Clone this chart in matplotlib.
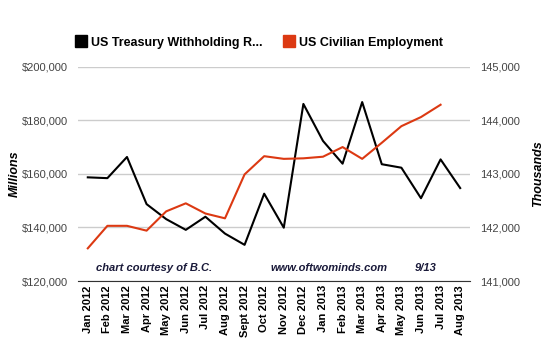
import matplotlib
matplotlib.use("Agg")
import matplotlib.pyplot as plt
from matplotlib.lines import Line2D
from matplotlib.ticker import FuncFormatter

plt.rcParams['font.family'] = ['Liberation Sans', 'DejaVu Sans']

months = ["Jan 2012", "Feb 2012", "Mar 2012", "Apr 2012", "May 2012", "Jun 2012",
          "Jul 2012", "Aug 2012", "Sept 2012", "Oct 2012", "Nov 2012", "Dec 2012",
          "Jan 2013", "Feb 2013", "Mar 2013", "Apr 2013", "May 2013", "Jun 2013",
          "Jul 2013", "Aug 2013"]
# withholding receipts, millions of $
withholding = [158700, 158400, 166300, 148700, 143100, 139100, 144000, 137700,
               133500, 152600, 139900, 186100, 172300, 163800, 186800, 163600,
               162300, 150900, 165400, 154700]
# civilian employment, thousands (no Aug 2013 value)
employment = [141610, 142030, 142030, 141940, 142300, 142450, 142260, 142170,
              142990, 143330, 143280, 143290, 143320, 143500, 143280, 143580,
              143890, 144060, 144290]

black = "#000000"
red = "#dc3912"
grey = "#444444"

fig = plt.figure(figsize=(5.5, 3.4), dpi=100)
ax = fig.add_axes([0.1418, 0.1735, 0.7127, 0.6303])
ax2 = ax.twinx()

x = list(range(len(months)))
ax.plot(x, withholding, color=black, lw=1.5, zorder=3)
ax2.plot(x[:len(employment)], employment, color=red, lw=1.5, zorder=3)

ax.set_xlim(-0.5, len(months) - 0.5)
ax.set_ylim(120000, 200000)
ax2.set_ylim(141000, 145000)
ax.set_yticks([120000, 140000, 160000, 180000, 200000])
ax2.set_yticks([141000, 142000, 143000, 144000, 145000])
ax.yaxis.set_major_formatter(FuncFormatter(lambda v, p: "${:,.0f}".format(v)))
ax2.yaxis.set_major_formatter(FuncFormatter(lambda v, p: "{:,.0f}".format(v)))

ax.grid(axis='y', color="#cccccc", lw=1)
ax.set_axisbelow(True)
for a in (ax, ax2):
    for s in a.spines.values():
        s.set_visible(False)
ax.spines['bottom'].set_visible(True)
ax.spines['bottom'].set_color("#333333")

ax.set_xticks(x)
ax.set_xticklabels(months, rotation=90, fontsize=8, fontweight='bold', color=black)
ax.tick_params(axis='x', length=0, pad=3)
ax.tick_params(axis='y', length=0, pad=7, labelsize=8, labelcolor=grey)
ax2.tick_params(axis='y', length=0, pad=7, labelsize=8, labelcolor=grey)

ax.set_ylabel("Millions", fontsize=9, fontweight='bold', fontstyle='italic', labelpad=1)
ax2.set_ylabel("Thousands", fontsize=9, fontweight='bold', fontstyle='italic', labelpad=9)

# credits inside the plot
navy = "#1a1a3a"
ax.text(0.045, 0.045, "chart courtesy of B.C.", transform=ax.transAxes, fontsize=8,
        fontweight='bold', fontstyle='italic', color=navy)
ax.text(0.49, 0.045, "www.oftwominds.com", transform=ax.transAxes, fontsize=8,
        fontweight='bold', fontstyle='italic', color=navy)
ax.text(0.86, 0.045, "9/13", transform=ax.transAxes, fontsize=8,
        fontweight='bold', fontstyle='italic', color=navy)

handles = [Line2D([], [], ls='none', marker='s', ms=9, color=black),
           Line2D([], [], ls='none', marker='s', ms=9, color=red)]
fig.legend(handles, ["US Treasury Withholding R...", "US Civilian Employment"],
           loc='center', bbox_to_anchor=(0.472, 0.874), ncol=2, frameon=False,
           prop={'size': 9, 'weight': 'bold'}, handlelength=0.8, handletextpad=0.4,
           columnspacing=1.7)

fig.savefig("out.png", dpi=100)
